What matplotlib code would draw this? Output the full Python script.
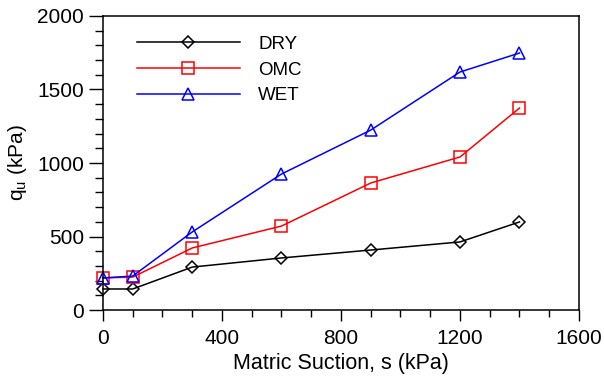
import matplotlib.pyplot as plt
from matplotlib.ticker import MultipleLocator

plt.rcParams['font.family'] = ['Liberation Sans', 'DejaVu Sans']

suction = [0, 100, 300, 600, 900, 1200, 1400]
dry = [143, 143, 292, 354, 408, 463, 599]
omc = [218, 224, 422, 571, 864, 1041, 1374]
wet = [218, 231, 531, 925, 1224, 1619, 1748]

fig = plt.figure(figsize=(6.04, 3.8), dpi=100)
ax = fig.add_axes([0.1705, 0.1842, 0.7881, 0.7737])

style = dict(mfc='none', mew=1.1, lw=1.1, clip_on=False)
ax.plot(suction, dry, color='black', marker='D', ms=6, label='DRY', **style)
ax.plot(suction, omc, color='red', marker='s', ms=8, label='OMC', **style)
ax.plot(suction, wet, color='blue', marker='^', ms=8, label='WET', **style)

ax.set_xlim(0, 1600)
ax.set_ylim(0, 2000)
ax.xaxis.set_major_locator(MultipleLocator(400))
ax.xaxis.set_minor_locator(MultipleLocator(100))
ax.yaxis.set_major_locator(MultipleLocator(500))
ax.yaxis.set_minor_locator(MultipleLocator(100))
ax.tick_params(which='major', direction='out', length=8, width=1, labelsize=15, color='black')
ax.tick_params(which='minor', direction='out', length=5, width=1)
ax.tick_params(axis='x', which='major', pad=6)
ax.tick_params(axis='y', which='major', length=10)
ax.tick_params(axis='y', which='minor', length=6)
for s in ax.spines.values():
    s.set_linewidth(1.1)

ax.set_xlabel('Matric Suction, s (kPa)', fontsize=15.5, labelpad=3)
ax.set_ylabel('q$_\\mathregular{u}$ (kPa)', fontsize=15, labelpad=6)

ax.legend(loc='upper left', bbox_to_anchor=(0.035, 0.99), frameon=False, fontsize=13.5,
          handlelength=5.5, handletextpad=1.0, labelspacing=0.45)

fig.savefig('out.png', dpi=100)
